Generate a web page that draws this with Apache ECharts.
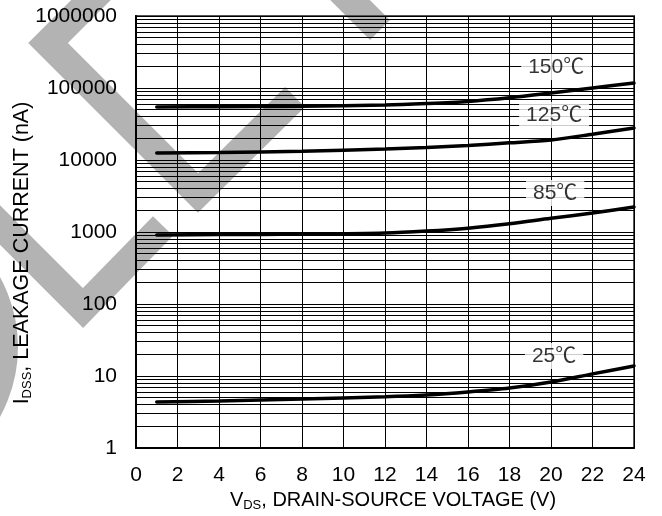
<!DOCTYPE html>
<html>
<head>
<meta charset="utf-8">
<script src="https://cdn.jsdelivr.net/npm/echarts@6/dist/echarts.min.js"></script>
<style>
  html, body { margin: 0; padding: 0; background: #fff; }
  #chart { width: 662px; height: 516px; }
</style>
</head>
<body>
<div id="chart"></div>
<script>
// VDS (V)
var vds = [1, 4, 8, 12, 14, 16, 18, 20, 22, 24];
// IDSS (nA) per temperature
var t150 = [54500, 55000, 56000, 58000, 60800, 65000, 73000, 85000, 100000, 117000];
var t125 = [12500, 12700, 13200, 14200, 14900, 15900, 17300, 19000, 22800, 27800];
var t85 = [908, 920, 935, 968, 1030, 1130, 1300, 1550, 1830, 2220];
var t25 = [4.35, 4.5, 4.8, 5.15, 5.45, 6.0, 6.8, 8.25, 10.7, 13.8];
// curve labels
var labelText = ['150℃', '125℃', '85℃', '25℃'];
var labelX = [20.25, 20.15, 20.2, 20.15];
var labelY = [196000, 42200, 3470, 19];
// decades on the y axis
var decades = [1, 10, 100, 1000, 10000, 100000];
var minorSteps = [2, 3, 4, 5, 6, 7, 8, 9];

var font = 'Liberation Sans, Arial, Helvetica, sans-serif';

function pairs(ys) {
    var out = [];
    for (var i = 0; i < vds.length; i++) {
        out.push([vds[i], ys[i]]);
    }
    return out;
}

var minorLines = [];
for (var d = 0; d < decades.length; d++) {
    for (var k = 0; k < minorSteps.length; k++) {
        minorLines.push({ yAxis: decades[d] * minorSteps[k] });
    }
}

function curve(name, ys) {
    return {
        name: name,
        type: 'line',
        data: pairs(ys),
        smooth: 0.3,
        symbol: 'none',
        z: 5,
        lineStyle: { color: '#000', width: 3.5, cap: 'round' }
    };
}

var labelData = [];
for (var i = 0; i < labelText.length; i++) {
    labelData.push([labelX[i], labelY[i], labelText[i]]);
}

function nameRich(size) {
    return {
        a: { fontFamily: font, fontSize: size, color: '#000', lineHeight: 24 },
        sub: { fontFamily: font, fontSize: 13, color: '#000', lineHeight: 12, verticalAlign: 'bottom' }
    };
}

var chart = echarts.init(document.getElementById('chart'));
var option = {
    backgroundColor: '#fff',
    animation: false,
    grid: {
        left: 136, right: 28, top: 16, bottom: 68,
        containLabel: false,
        outerBoundsMode: 'none',
        show: true, borderColor: '#555', borderWidth: 2
    },
    graphic: {
        elements: [
            { type: 'polyline', z: -10, silent: true,
              shape: { points: [[101, -10], [48, 43], [198, 193], [295, 97]] },
              style: { stroke: '#b3b3b3', lineWidth: 28, fill: null, lineJoin: 'miter' } },
            { type: 'polyline', z: -10, silent: true,
              shape: { points: [[320, -30], [380, 30]] },
              style: { stroke: '#b3b3b3', lineWidth: 28, fill: null } },
            { type: 'polyline', z: -10, silent: true,
              shape: { points: [[-20, 205], [83, 308], [163, 226]] },
              style: { stroke: '#b3b3b3', lineWidth: 28, fill: null, lineJoin: 'miter' } },
            { type: 'circle', z: -10, silent: true,
              shape: { cx: -127, cy: 347, r: 131 },
              style: { stroke: '#b3b3b3', lineWidth: 28, fill: null } }
        ]
    },
    xAxis: {
        type: 'value',
        min: 0, max: 24, interval: 2,
        name: '{a|V}{sub|DS}{a|, DRAIN-SOURCE VOLTAGE (V)}',
        nameLocation: 'middle',
        nameGap: 40,
        nameMoveOverlap: false,
        nameTextStyle: { padding: [0, 0, 0, 16], rich: nameRich(20) },
        axisLine: { lineStyle: { color: '#000', width: 2 } },
        axisTick: { show: false },
        axisLabel: { fontFamily: font, fontSize: 21, color: '#000', margin: 17 },
        splitLine: { lineStyle: { color: '#000', width: 1 } }
    },
    yAxis: {
        type: 'log',
        logBase: 10,
        min: 1, max: 1000000,
        name: '{a|I}{sub|DSS}{a|, LEAKAGE CURRENT (nA)}',
        nameLocation: 'middle',
        nameGap: 102,
        nameRotate: 90,
        nameMoveOverlap: false,
        nameTextStyle: { padding: [0, 42, 0, 0], rich: nameRich(21.5) },
        axisLine: { show: true, lineStyle: { color: '#000', width: 2 } },
        axisTick: { show: true, inside: true, length: 6, lineStyle: { color: '#000' } },
        axisLabel: {
            fontFamily: font, fontSize: 21, color: '#000', margin: 19,
            formatter: function (v) { return String(Math.round(v)); }
        },
        splitLine: { lineStyle: { color: '#000', width: 1 } }
    },
    series: [
        {
            name: 'minor',
            type: 'line',
            data: [],
            silent: true,
            markLine: {
                silent: true,
                symbol: 'none',
                label: { show: false },
                lineStyle: { color: '#000', width: 1, type: 'solid' },
                emphasis: { disabled: true },
                data: minorLines
            }
        },
        curve('150', t150),
        curve('125', t125),
        curve('85', t85),
        curve('25', t25),
        {
            name: 'labels',
            type: 'scatter',
            data: labelData,
            symbolSize: 1,
            itemStyle: { color: 'rgba(0,0,0,0)' },
            z: 6,
            label: {
                show: true,
                position: 'inside',
                formatter: function (p) { return p.data[2]; },
                fontFamily: 'Liberation Sans, Noto Sans CJK SC, sans-serif',
                fontSize: 21,
                color: '#000',
                backgroundColor: '#fff',
                padding: [3, 7, 2, 7]
            }
        }
    ]
};
chart.setOption(option);
</script>
</body>
</html>
